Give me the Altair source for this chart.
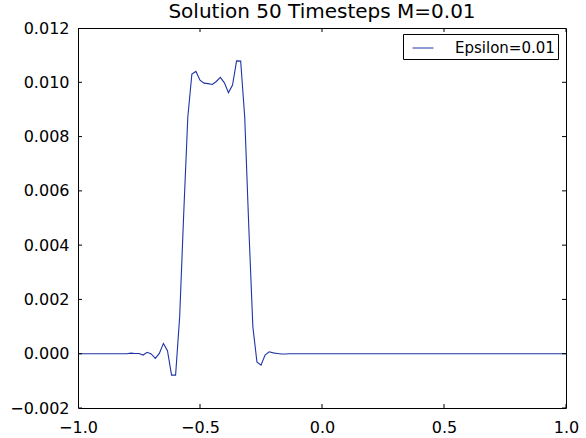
import altair as alt
import numpy as np
import pandas as pd

x_vals = np.linspace(-1.0, 1.0, 121)
y_vals = [
    0, 0, 0, 0, 0, 0, 0, 0, 0, 0,
    0, 0, 0, 0.00002, 0.00001, 0.00001, -0.00005, 0.00005, -0.00001, -0.00017,
    0.00001, 0.00038, 0.00011, -0.00079, -0.00079, 0.00136, 0.00517, 0.00871, 0.01030, 0.01040,
    0.01008, 0.00997, 0.00995, 0.00992, 0.01003, 0.01018, 0.00998, 0.00962, 0.00990, 0.01079,
    0.01078, 0.00871, 0.00466, 0.00099, -0.00030, -0.00042, -0.00005, 0.00007, 0.00003, 0.00001,
    -0.00001, -0.00001, 0, 0, 0, 0, 0, 0, 0, 0,
    0, 0, 0, 0, 0, 0, 0, 0, 0, 0,
    0, 0, 0, 0, 0, 0, 0, 0, 0, 0,
    0, 0, 0, 0, 0, 0, 0, 0, 0, 0,
    0, 0, 0, 0, 0, 0, 0, 0, 0, 0,
    0, 0, 0, 0, 0, 0, 0, 0, 0, 0,
    0, 0, 0, 0, 0, 0, 0, 0, 0, 0,
    0,
]
series_name = "Epsilon=0.01"
x_ticks = [-1.0, -0.5, 0.0, 0.5, 1.0]
y_ticks = [-0.002, 0.0, 0.002, 0.004, 0.006, 0.008, 0.010, 0.012]

df = pd.DataFrame({"x": x_vals, "y": y_vals, "series": series_name})
xt = pd.DataFrame({"x": x_ticks})
yt = pd.DataFrame({"y": y_ticks})

FONT = "DejaVu Sans"
W, H = 488, 380
xscale = alt.Scale(domain=[-1, 1], nice=False, zero=False)
yscale = alt.Scale(domain=[-0.002, 0.012], nice=False, zero=False)

common = dict(labelFont=FONT, labelFontSize=16, labelColor="black", labelFlush=False,
              labelOverlap=False, ticks=False, domain=False, grid=False, title=None)
x_axis = alt.Axis(orient="bottom", values=x_ticks, format=".1f", labelPadding=11, **common)
y_axis = alt.Axis(orient="left", values=y_ticks, format=".3f", labelPadding=9, **common)

main = alt.Chart(df).mark_line(strokeWidth=1.1).encode(
    x=alt.X("x:Q", scale=xscale, axis=x_axis),
    y=alt.Y("y:Q", scale=yscale, axis=y_axis),
    color=alt.Color("series:N", scale=alt.Scale(range=["#1f35a5"]),
                    legend=alt.Legend(title=None, orient="none", legendX=325, legendY=6,
                                      symbolType="stroke", symbolSize=441, symbolStrokeWidth=1,
                                      symbolOffset=6, labelOffset=21, padding=3,
                                      strokeColor="black", fillColor="white", cornerRadius=0,
                                      labelFont=FONT, labelFontSize=15, labelColor="black")),
)

tick_style = dict(size=8, thickness=1, color="black", clip=True, opacity=1)

xticks_bottom = alt.Chart(xt).mark_tick(**tick_style).encode(
    x=alt.X("x:Q", scale=xscale, axis=x_axis), y=alt.value(H))
xticks_top = alt.Chart(xt).mark_tick(**tick_style).encode(
    x=alt.X("x:Q", scale=xscale, axis=x_axis), y=alt.value(0))
yticks_left = alt.Chart(yt).mark_tick(**tick_style).encode(
    y=alt.Y("y:Q", scale=yscale, axis=y_axis), x=alt.value(0))
yticks_right = alt.Chart(yt).mark_tick(**tick_style).encode(
    y=alt.Y("y:Q", scale=yscale, axis=y_axis), x=alt.value(W))

chart = alt.layer(main, xticks_bottom, xticks_top, yticks_left, yticks_right).properties(
    width=W,
    height=H,
    background="white",
    title=alt.TitleParams("Solution 50 Timesteps M=0.01", font=FONT, fontSize=20,
                          fontWeight="normal", color="black", anchor="middle",
                          baseline="alphabetic", offset=6, dy=24),
    autosize=alt.AutoSizeParams(type="none"),
    padding={"left": 78, "top": 28, "right": 20, "bottom": 30},
).configure_view(stroke="black", strokeWidth=1)

chart.save("out.html", embed_options={"renderer": "svg", "actions": False})
